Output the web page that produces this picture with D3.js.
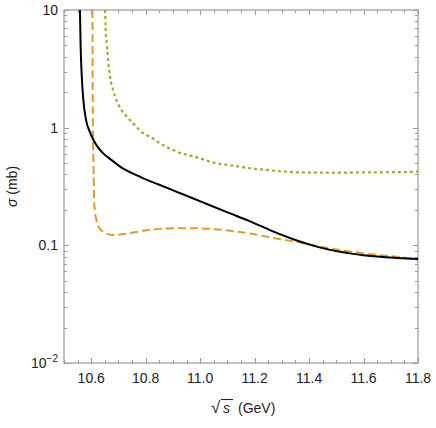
<!DOCTYPE html>
<html>
<head>
<meta charset="utf-8">
<script src="https://cdnjs.cloudflare.com/ajax/libs/d3/7.8.5/d3.min.js"></script>
<style>
  body { margin: 0; background: #fff; }
  text { font-family: "Liberation Sans", Arial, sans-serif; }
</style>
</head>
<body>
<div id="chart"></div>
<script>
// sqrt(s) in GeV, sigma in mb
var blackCurve = [
  [10.5585, 10], [10.561, 5], [10.565, 2.8], [10.571, 1.72], [10.581, 1.16],
  [10.595, 0.92], [10.608, 0.785], [10.625, 0.68], [10.644, 0.605], [10.675, 0.53],
  [10.706, 0.466], [10.75, 0.41], [10.791, 0.371], [10.85, 0.327], [10.914, 0.285],
  [10.975, 0.25], [11.036, 0.219], [11.11, 0.187], [11.183, 0.16], [11.232, 0.143],
  [11.29, 0.125], [11.355, 0.11], [11.415, 0.0995], [11.477, 0.0915], [11.54, 0.0862],
  [11.599, 0.0822], [11.66, 0.0798], [11.722, 0.0782], [11.8, 0.0766]
];
var orangeCurve = [
  [10.6045, 10], [10.605, 3], [10.6055, 1.72], [10.6065, 0.785], [10.609, 0.4],
  [10.6105, 0.243], [10.614, 0.19], [10.619, 0.164], [10.628, 0.142], [10.643, 0.131],
  [10.66, 0.1245], [10.68, 0.1225], [10.71, 0.124], [10.745, 0.1275], [10.791, 0.133],
  [10.852, 0.138], [10.95, 0.14], [11.036, 0.138], [11.11, 0.133], [11.183, 0.126],
  [11.232, 0.12], [11.29, 0.113], [11.355, 0.107], [11.415, 0.1], [11.477, 0.0944],
  [11.54, 0.0895], [11.599, 0.0855], [11.66, 0.0825], [11.722, 0.08], [11.8, 0.0755]
];
var greenCurve = [
  [10.651, 10], [10.653, 7], [10.657, 5.2], [10.663, 3.6], [10.669, 2.71],
  [10.68, 2.1], [10.695, 1.66], [10.71, 1.42], [10.73, 1.24], [10.742, 1.16],
  [10.765, 1.02], [10.791, 0.895], [10.816, 0.838], [10.853, 0.736], [10.914, 0.625],
  [10.999, 0.55], [11.036, 0.514], [11.122, 0.475], [11.183, 0.452], [11.244, 0.437],
  [11.367, 0.417], [11.489, 0.414], [11.611, 0.417], [11.734, 0.419], [11.8, 0.423]
];
var xTicks = [10.6, 10.8, 11.0, 11.2, 11.4, 11.6, 11.8];
var yTicks = [0.01, 0.1, 1, 10];
var yTickLabels = ["10-2", "0.1", "1", "10"];

var width = 436, height = 428;
var margin = { top: 10, right: 18, bottom: 65, left: 64 };
var frameColor = "#9a9a9a";

var svg = d3.select("#chart").append("svg")
  .attr("width", width)
  .attr("height", height);

var x = d3.scaleLinear().domain([10.5, 11.8]).range([margin.left, width - margin.right]);
var y = d3.scaleLog().domain([0.01, 10]).range([height - margin.bottom, margin.top]);

svg.append("clipPath").attr("id", "plotclip")
  .append("rect")
  .attr("x", x(10.5)).attr("y", y(10))
  .attr("width", x(11.8) - x(10.5)).attr("height", y(0.01) - y(10));

// minor ticks
var xMinor = d3.range(10.5, 11.80001, 0.05).map(function(d) { return +d.toFixed(2); });
var yMinor = [];
[0.01, 0.1, 1].forEach(function(dec) {
  for (var k = 2; k <= 9; k++) yMinor.push(dec * k);
});

var ticks = svg.append("g").attr("stroke", frameColor).attr("stroke-width", 1);
function tickLen(isMajor) { return isMajor ? 5 : 3; }

xMinor.forEach(function(v) {
  var major = xTicks.some(function(t) { return Math.abs(t - v) < 1e-6; });
  var px = Math.round(x(v)) + 0.5;
  ticks.append("line").attr("x1", px).attr("x2", px)
    .attr("y1", y(0.01)).attr("y2", y(0.01) - tickLen(major));
  ticks.append("line").attr("x1", px).attr("x2", px)
    .attr("y1", y(10)).attr("y2", y(10) + tickLen(major));
});
yTicks.concat(yMinor).forEach(function(v) {
  var major = yTicks.indexOf(v) >= 0;
  var py = Math.round(y(v)) + 0.5;
  ticks.append("line").attr("y1", py).attr("y2", py)
    .attr("x1", x(10.5)).attr("x2", x(10.5) + tickLen(major));
  ticks.append("line").attr("y1", py).attr("y2", py)
    .attr("x1", x(11.8)).attr("x2", x(11.8) - tickLen(major));
});

// frame
svg.append("rect")
  .attr("x", x(10.5)).attr("y", y(10))
  .attr("width", x(11.8) - x(10.5)).attr("height", y(0.01) - y(10))
  .attr("fill", "none")
  .attr("stroke", frameColor)
  .attr("stroke-width", 1.2);

// tick labels
svg.append("g").selectAll("text").data(xTicks).enter().append("text")
  .attr("x", function(d) { return x(d); })
  .attr("y", y(0.01) + 20)
  .attr("text-anchor", "middle")
  .attr("font-size", 14)
  .attr("fill", "#222")
  .text(function(d) { return d.toFixed(1); });

var ylab = svg.append("g");
yTicks.forEach(function(d, i) {
  var t = ylab.append("text")
    .attr("x", x(10.5) - 6)
    .attr("y", y(d) + 5)
    .attr("text-anchor", "end")
    .attr("font-size", 14)
    .attr("fill", "#222");
  var lab = yTickLabels[i];
  if (lab.indexOf("10-") === 0) {
    t.append("tspan").text("10");
    t.append("tspan").attr("font-size", 10).attr("dy", -6).text("\u2212" + lab.slice(3));
  } else {
    t.text(lab);
  }
});

// curves
var line = d3.line()
  .x(function(d) { return x(d[0]); })
  .y(function(d) { return y(d[1]); })
  .curve(d3.curveMonotoneX);

var plot = svg.append("g").attr("clip-path", "url(#plotclip)");
plot.append("path").datum(greenCurve)
  .attr("d", line).attr("fill", "none")
  .attr("stroke", "#8fb032").attr("stroke-width", 2.2)
  .attr("stroke-dasharray", "3,3");
plot.append("path").datum(orangeCurve)
  .attr("d", line).attr("fill", "none")
  .attr("stroke", "#e19c24").attr("stroke-width", 2)
  .attr("stroke-dasharray", "8,4");
plot.append("path").datum(blackCurve)
  .attr("d", line).attr("fill", "none")
  .attr("stroke", "#000").attr("stroke-width", 2);

// axis titles
var yt = svg.append("text")
  .attr("transform", "translate(17," + ((y(10) + y(0.01)) / 2) + ") rotate(-90)")
  .attr("text-anchor", "middle")
  .attr("font-size", 14)
  .attr("fill", "#222");
yt.append("tspan").attr("font-style", "italic").text("\u03c3");
yt.append("tspan").text(" (mb)");

var xt = svg.append("g").attr("transform", "translate(" + ((x(10.5) + x(11.8)) / 2 - 30) + ",413)");
xt.append("text").attr("font-size", 17).attr("fill", "#222").text("\u221a");
xt.append("line").attr("x1", 10).attr("x2", 22).attr("y1", -13.5).attr("y2", -13.5)
  .attr("stroke", "#222").attr("stroke-width", 1.1);
xt.append("text").attr("x", 12).attr("font-size", 14).attr("font-style", "italic").attr("fill", "#222").text("s");
xt.append("text").attr("x", 27).attr("font-size", 14).attr("fill", "#222").text("(GeV)");
</script>
</body>
</html>
